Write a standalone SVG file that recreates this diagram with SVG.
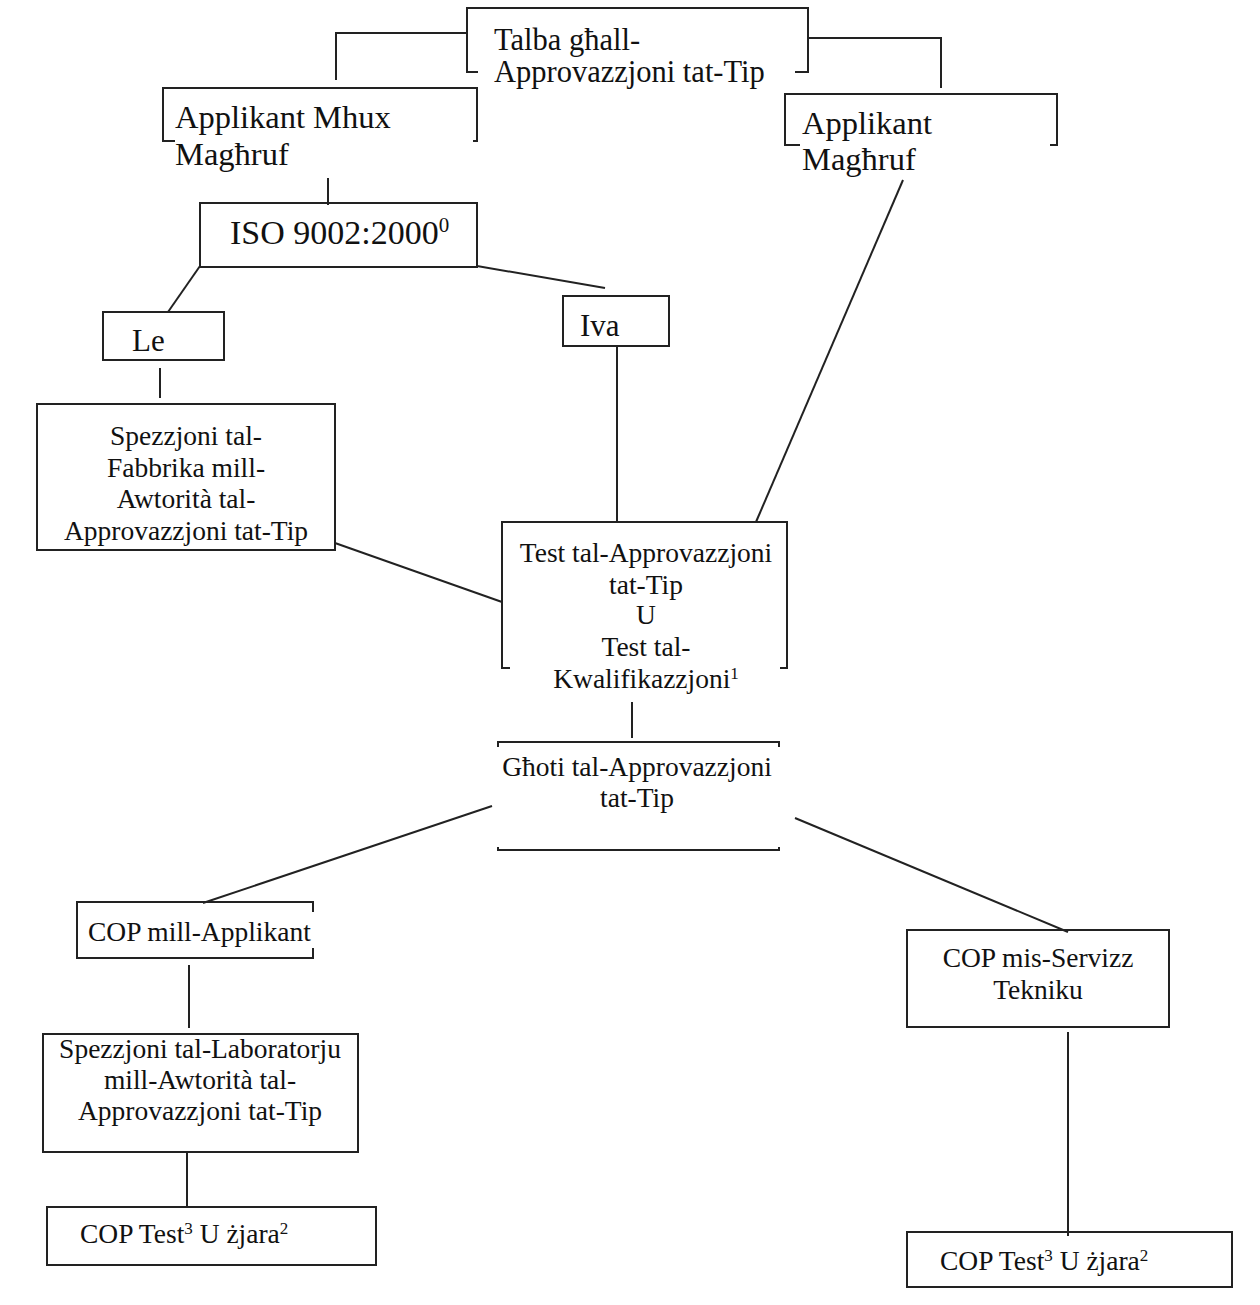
<svg xmlns="http://www.w3.org/2000/svg" width="1260" height="1305" viewBox="0 0 1260 1305">
<style>
.b{fill:none;stroke:#222;stroke-width:2}
.c{fill:none;stroke:#222;stroke-width:2}
.t{font-family:"Liberation Serif","Times New Roman",serif;fill:#111}
.L{font-size:31px}
.A{font-size:32.5px}
.S{font-size:27.5px}
.m{text-anchor:middle}
.sup{font-size:17px}
.supL{font-size:21px}
</style>
<rect width="1260" height="1305" fill="#fff"/>
<g id="connectors">
<polyline class="c" points="467,33 336,33 336,80"/>
<polyline class="c" points="808,38 941,38 941,88"/>
<line class="c" x1="328" y1="178" x2="328" y2="205"/>
<line class="c" x1="200" y1="266" x2="168" y2="312"/>
<line class="c" x1="477" y1="266" x2="605" y2="288"/>
<line class="c" x1="160" y1="368" x2="160" y2="398"/>
<line class="c" x1="617" y1="346" x2="617" y2="522"/>
<line class="c" x1="903" y1="180" x2="756" y2="522"/>
<line class="c" x1="335" y1="543" x2="502" y2="602"/>
<line class="c" x1="632" y1="702" x2="632" y2="738"/>
<line class="c" x1="492" y1="806" x2="203" y2="903"/>
<line class="c" x1="795" y1="818" x2="1068" y2="932"/>
<line class="c" x1="189" y1="965" x2="189" y2="1028"/>
<line class="c" x1="187" y1="1152" x2="187" y2="1207"/>
<line class="c" x1="1068" y1="1032" x2="1068" y2="1236"/>
</g>
<g id="talba">
<polyline class="b" points="478,72 467,72 467,8 808,8 808,72 795,72"/>
<text class="t" style="font-size:30.5px" x="494" y="50">Talba għall-</text>
<text class="t" style="font-size:30.5px" x="494" y="82">Approvazzjoni tat-Tip</text>
</g>
<g id="mhux">
<polyline class="b" points="175,141 163,141 163,88 477,88 477,141 473,141"/>
<text class="t A" x="175" y="128">Applikant Mhux</text>
<text class="t A" x="175" y="165">Magħruf</text>
</g>
<g id="maghruf">
<polyline class="b" points="800,145 785,145 785,94 1057,94 1057,145 1050,145"/>
<text class="t A" x="802" y="134">Applikant</text>
<text class="t A" x="802" y="170">Magħruf</text>
</g>
<g id="iso">
<rect class="b" x="200" y="203" width="277" height="64"/>
<text class="t" style="font-size:34px" x="230" y="244">ISO 9002:2000<tspan class="supL" baseline-shift="super">0</tspan></text>
</g>
<g id="le">
<rect class="b" x="103" y="312" width="121" height="48"/>
<text class="t L" x="132" y="351">Le</text>
</g>
<g id="iva">
<rect class="b" x="563" y="296" width="106" height="50"/>
<text class="t L" x="580" y="336">Iva</text>
</g>
<g id="spezzjoni-fabbrika">
<rect class="b" x="37" y="404" width="298" height="146"/>
<text class="t S m" x="186" y="445">Spezzjoni tal-</text>
<text class="t S m" x="186" y="477">Fabbrika mill-</text>
<text class="t S m" x="186" y="508">Awtorità tal-</text>
<text class="t S m" x="186" y="540">Approvazzjoni tat-Tip</text>
</g>
<g id="test">
<polyline class="b" points="510,668 502,668 502,522 787,522 787,668 780,668"/>
<text class="t S m" x="646" y="562">Test tal-Approvazzjoni</text>
<text class="t S m" x="646" y="594">tat-Tip</text>
<text class="t S m" x="646" y="624">U</text>
<text class="t S m" x="646" y="656">Test tal-</text>
<text class="t S m" x="646" y="688">Kwalifikazzjoni<tspan class="sup" baseline-shift="super">1</tspan></text>
</g>
<g id="ghoti">
<polyline class="b" points="498,747 498,742 779,742 779,747"/>
<polyline class="b" points="498,847 498,850 779,850 779,847"/>
<text class="t S m" x="637" y="776">Għoti tal-Approvazzjoni</text>
<text class="t S m" x="637" y="807">tat-Tip</text>
</g>
<g id="cop-applikant">
<polyline class="b" points="313,912 313,902 77,902 77,958 313,958 313,948"/>
<text class="t S" x="88" y="941">COP mill-Applikant</text>
</g>
<g id="spezzjoni-lab">
<rect class="b" x="43" y="1034" width="315" height="118"/>
<text class="t S m" x="200" y="1058">Spezzjoni tal-Laboratorju</text>
<text class="t S m" x="200" y="1089">mill-Awtorità tal-</text>
<text class="t S m" x="200" y="1120">Approvazzjoni tat-Tip</text>
</g>
<g id="cop-test-left">
<rect class="b" x="47" y="1207" width="329" height="58"/>
<text class="t S" x="80" y="1243">COP Test<tspan class="sup" baseline-shift="super">3</tspan> U żjara<tspan class="sup" baseline-shift="super">2</tspan></text>
</g>
<g id="cop-servizz">
<rect class="b" x="907" y="930" width="262" height="97"/>
<text class="t S m" x="1038" y="967">COP mis-Servizz</text>
<text class="t S m" x="1038" y="999">Tekniku</text>
</g>
<g id="cop-test-right">
<rect class="b" x="907" y="1232" width="325" height="55"/>
<text class="t S" x="940" y="1270">COP Test<tspan class="sup" baseline-shift="super">3</tspan> U żjara<tspan class="sup" baseline-shift="super">2</tspan></text>
</g>
</svg>
